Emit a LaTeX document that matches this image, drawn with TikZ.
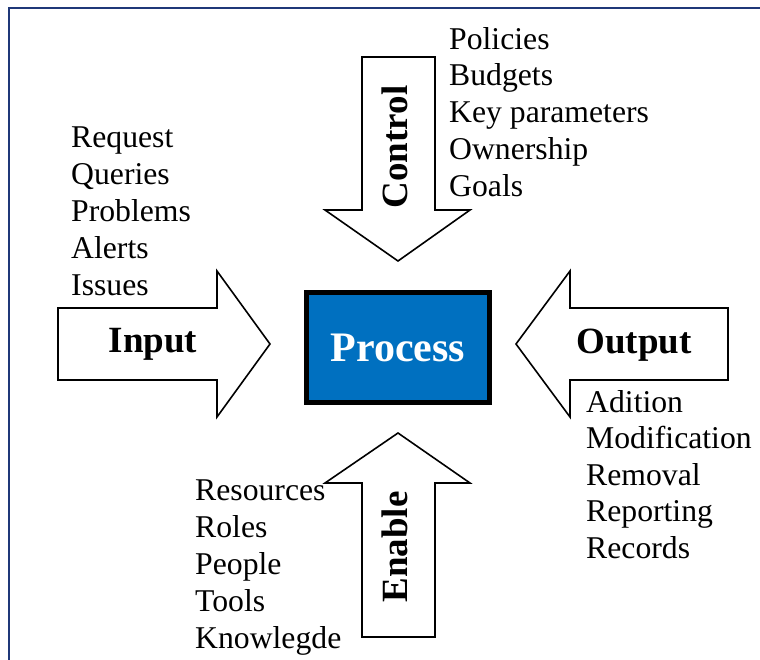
\documentclass[tikz,border=0pt]{standalone}
\usepackage{fontspec}
\setmainfont{Liberation Serif}
\definecolor{framecol}{RGB}{31,56,120}
\definecolor{procblue}{RGB}{0,112,192}
\begin{document}
\begin{tikzpicture}[x=1pt,y=-1pt,
  bigarrow/.style={draw=black,fill=white,line width=1.6pt,line join=miter},
  listtext/.style={anchor=base west,inner sep=0pt,font=\fontsize{31.7}{37}\selectfont},
  arrowlabel/.style={anchor=base,inner sep=0pt,font=\fontsize{37}{40}\selectfont\bfseries}]
\useasboundingbox (0,0) rectangle (760,659);
\clip (0,0) rectangle (760,659);
% outer frame
\draw[framecol,line width=1.6pt] (9,670) -- (9,8) -- (770,8);
% arrows
\draw[bigarrow] (58,308) -- (217,308) -- (217,271) -- (270,344) -- (217,417) -- (217,380) -- (58,380) -- cycle;
\draw[bigarrow] (728,308) -- (570,308) -- (570,271) -- (516,344) -- (570,417) -- (570,380) -- (728,380) -- cycle;
\draw[bigarrow] (362,57) -- (435,57) -- (435,210) -- (470,210) -- (398,261) -- (325,210) -- (362,210) -- cycle;
\draw[bigarrow] (362,637) -- (435,637) -- (435,483) -- (470,483) -- (398,433) -- (325,483) -- (362,483) -- cycle;
% process box
\node[draw=black,line width=5pt,fill=procblue,minimum width=183pt,minimum height=110pt,inner sep=0pt,
      text=white,font=\fontsize{42}{44}\selectfont\bfseries] (proc) at (398,347.5) {Process};
% arrow labels
\node[arrowlabel] (inlbl) at (153,352) {Input};
\node[arrowlabel] (outlbl) at (634,353) {Output};
\node[arrowlabel,rotate=90] (ctllbl) at (407,147) {Control};
\node[arrowlabel,rotate=90] (enlbl) at (407,547) {Enable};
% lists
\foreach \t [count=\i] in {Policies,Budgets,Key parameters,Ownership,Goals}
  \node[listtext] (ctl\i) at (449,{49+36.8*(\i-1)}) {\t};
\foreach \t [count=\i] in {Request,Queries,Problems,Alerts,Issues}
  \node[listtext] (in\i) at (71,{147+37*(\i-1)}) {\t};
\foreach \t [count=\i] in {Adition,Modification,Removal,Reporting,Records}
  \node[listtext] (out\i) at (586,{412+36.5*(\i-1)}) {\t};
\foreach \t [count=\i] in {Resources,Roles,People,Tools,Knowlegde}
  \node[listtext] (en\i) at (195,{500+37*(\i-1)}) {\t};
\end{tikzpicture}
\end{document}
